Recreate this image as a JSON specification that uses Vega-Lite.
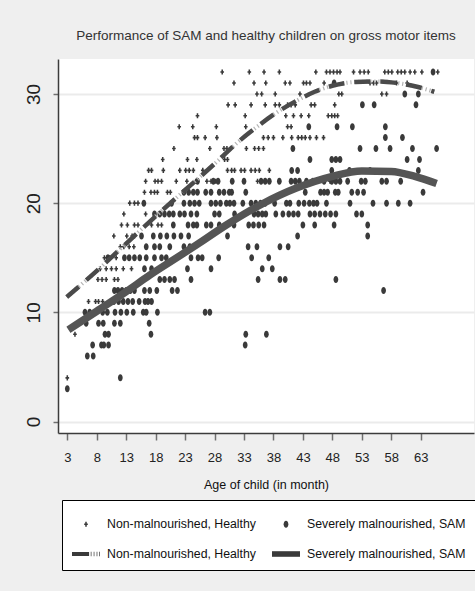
{
"$schema": "https://vega.github.io/schema/vega-lite/v6.json",
"width": 416, "height": 374,
"autosize": {"type": "none"},
"padding": {"left": 58, "top": 59, "right": 1, "bottom": 158},
"background": "#efefef",
"config": {"view": {"fill": "white", "stroke": null}},
"title": {"text": "Performance of SAM and healthy children on gross motor items", "font": "Liberation Sans, Arial, sans-serif", "fontSize": 13.5, "fontWeight": "normal", "color": "#333333", "anchor": "middle", "frame": "group", "baseline": "bottom", "offset": 3},
"datasets": {
"points": [
{"age":29.3,"score":32,"group":"H"},{"age":33.9,"score":32,"group":"H"},{"age":36.4,"score":32,"group":"H"},{"age":39.0,"score":32,"group":"H"},{"age":45.2,"score":32,"group":"H"},{"age":47.0,"score":32,"group":"H"},{"age":47.6,"score":32,"group":"H"},{"age":48.2,"score":32,"group":"H"},{"age":48.8,"score":32,"group":"H"},{"age":49.3,"score":32,"group":"H"},{"age":51.6,"score":32,"group":"H"},{"age":52.7,"score":32,"group":"H"},{"age":53.4,"score":32,"group":"H"},{"age":54.1,"score":32,"group":"H"},{"age":56.9,"score":32,"group":"H"},{"age":57.5,"score":32,"group":"H"},{"age":58.1,"score":32,"group":"H"},{"age":59.1,"score":32,"group":"H"},{"age":59.7,"score":32,"group":"H"},{"age":60.3,"score":32,"group":"H"},{"age":61.2,"score":32,"group":"H"},{"age":62.0,"score":32,"group":"H"},{"age":63.2,"score":32,"group":"H"},{"age":65.9,"score":32,"group":"H"},
{"age":31.3,"score":31,"group":"H"},{"age":34.7,"score":31,"group":"H"},{"age":36.7,"score":31,"group":"H"},{"age":40.0,"score":31,"group":"H"},{"age":40.8,"score":31,"group":"H"},{"age":43.1,"score":31,"group":"H"},{"age":43.6,"score":31,"group":"H"},{"age":44.2,"score":31,"group":"H"},{"age":46.6,"score":31,"group":"H"},{"age":54.4,"score":31,"group":"H"},{"age":55.0,"score":31,"group":"H"},{"age":55.5,"score":31,"group":"H"},{"age":58.9,"score":31,"group":"H"},{"age":60.7,"score":31,"group":"H"},
{"age":35.2,"score":30,"group":"H"},{"age":36.0,"score":30,"group":"H"},{"age":38.3,"score":30,"group":"H"},{"age":42.5,"score":30,"group":"H"},{"age":49.1,"score":30,"group":"H"},{"age":49.6,"score":30,"group":"H"},{"age":56.4,"score":30,"group":"H"},{"age":57.2,"score":30,"group":"H"},
{"age":30.3,"score":29,"group":"H"},{"age":31.5,"score":29,"group":"H"},{"age":34.2,"score":29,"group":"H"},{"age":36.6,"score":29,"group":"H"},{"age":38.3,"score":29,"group":"H"},{"age":39.0,"score":29,"group":"H"},{"age":40.4,"score":29,"group":"H"},{"age":41.0,"score":29,"group":"H"},{"age":41.7,"score":29,"group":"H"},{"age":44.4,"score":29,"group":"H"},{"age":45.0,"score":29,"group":"H"},{"age":48.4,"score":29,"group":"H"},
{"age":25.1,"score":28,"group":"H"},{"age":33.2,"score":28,"group":"H"},{"age":40.1,"score":28,"group":"H"},{"age":41.4,"score":28,"group":"H"},{"age":42.7,"score":28,"group":"H"},{"age":44.0,"score":28,"group":"H"},{"age":47.3,"score":28,"group":"H"},{"age":47.9,"score":28,"group":"H"},{"age":48.4,"score":28,"group":"H"},{"age":48.9,"score":28,"group":"H"},
{"age":22.0,"score":27,"group":"H"},{"age":24.3,"score":27,"group":"H"},{"age":28.3,"score":27,"group":"H"},{"age":33.3,"score":27,"group":"H"},{"age":40.4,"score":27,"group":"H"},{"age":41.0,"score":27,"group":"H"},
{"age":24.6,"score":26,"group":"H"},{"age":25.1,"score":26,"group":"H"},{"age":26.4,"score":26,"group":"H"},{"age":28.4,"score":26,"group":"H"},{"age":36.3,"score":26,"group":"H"},{"age":37.1,"score":26,"group":"H"},{"age":38.0,"score":26,"group":"H"},{"age":39.6,"score":26,"group":"H"},{"age":41.1,"score":26,"group":"H"},{"age":42.2,"score":26,"group":"H"},{"age":42.8,"score":26,"group":"H"},{"age":43.4,"score":26,"group":"H"},{"age":44.2,"score":26,"group":"H"},{"age":45.3,"score":26,"group":"H"},{"age":46.5,"score":26,"group":"H"},
{"age":21.1,"score":25,"group":"H"},{"age":27.2,"score":25,"group":"H"},{"age":29.6,"score":25,"group":"H"},{"age":30.1,"score":25,"group":"H"},{"age":33.4,"score":25,"group":"H"},{"age":34.8,"score":25,"group":"H"},{"age":35.5,"score":25,"group":"H"},{"age":36.3,"score":25,"group":"H"},
{"age":19.2,"score":24,"group":"H"},{"age":23.4,"score":24,"group":"H"},{"age":25.0,"score":24,"group":"H"},{"age":29.7,"score":24,"group":"H"},{"age":30.2,"score":24,"group":"H"},
{"age":16.8,"score":23,"group":"H"},{"age":17.3,"score":23,"group":"H"},{"age":19.3,"score":23,"group":"H"},{"age":22.1,"score":23,"group":"H"},{"age":23.1,"score":23,"group":"H"},{"age":23.7,"score":23,"group":"H"},{"age":24.4,"score":23,"group":"H"},{"age":26.0,"score":23,"group":"H"},{"age":30.2,"score":23,"group":"H"},{"age":30.9,"score":23,"group":"H"},{"age":31.4,"score":23,"group":"H"},{"age":32.5,"score":23,"group":"H"},{"age":33.1,"score":23,"group":"H"},{"age":34.2,"score":23,"group":"H"},{"age":34.9,"score":23,"group":"H"},{"age":35.6,"score":23,"group":"H"},{"age":37.3,"score":23,"group":"H"},
{"age":16.3,"score":22,"group":"H"},{"age":17.9,"score":22,"group":"H"},{"age":18.4,"score":22,"group":"H"},{"age":19.0,"score":22,"group":"H"},{"age":21.5,"score":22,"group":"H"},{"age":23.3,"score":22,"group":"H"},{"age":24.8,"score":22,"group":"H"},{"age":26.7,"score":22,"group":"H"},{"age":27.4,"score":22,"group":"H"},{"age":28.2,"score":22,"group":"H"},{"age":35.3,"score":22,"group":"H"},{"age":47.6,"score":22,"group":"H"},
{"age":16.1,"score":21,"group":"H"},{"age":17.2,"score":21,"group":"H"},{"age":17.8,"score":21,"group":"H"},{"age":18.3,"score":21,"group":"H"},{"age":20.0,"score":21,"group":"H"},{"age":20.5,"score":21,"group":"H"},
{"age":13.6,"score":20,"group":"H"},{"age":14.4,"score":20,"group":"H"},{"age":15.0,"score":20,"group":"H"},
{"age":12.6,"score":19,"group":"H"},{"age":16.3,"score":19,"group":"H"},
{"age":12.2,"score":18,"group":"H"},{"age":13.2,"score":18,"group":"H"},{"age":14.4,"score":18,"group":"H"},{"age":15.0,"score":18,"group":"H"},{"age":17.3,"score":18,"group":"H"},{"age":18.4,"score":18,"group":"H"},{"age":19.0,"score":18,"group":"H"},
{"age":10.9,"score":17,"group":"H"},{"age":13.1,"score":17,"group":"H"},{"age":14.0,"score":17,"group":"H"},{"age":14.4,"score":17,"group":"H"},
{"age":12.0,"score":16,"group":"H"},{"age":12.6,"score":16,"group":"H"},{"age":13.5,"score":16,"group":"H"},{"age":14.3,"score":16,"group":"H"},
{"age":9.3,"score":15,"group":"H"},{"age":9.8,"score":15,"group":"H"},{"age":10.2,"score":15,"group":"H"},{"age":11.3,"score":15,"group":"H"},
{"age":8.6,"score":14,"group":"H"},{"age":9.6,"score":14,"group":"H"},{"age":10.5,"score":14,"group":"H"},{"age":11.3,"score":14,"group":"H"},{"age":12.5,"score":14,"group":"H"},{"age":13.9,"score":14,"group":"H"},
{"age":8.2,"score":13,"group":"H"},{"age":8.9,"score":13,"group":"H"},{"age":9.6,"score":13,"group":"H"},{"age":11.0,"score":13,"group":"H"},{"age":11.6,"score":13,"group":"H"},
{"age":6.6,"score":11,"group":"H"},{"age":7.8,"score":11,"group":"H"},{"age":8.3,"score":11,"group":"H"},{"age":9.0,"score":11,"group":"H"},
{"age":4.3,"score":8,"group":"H"},{"age":3.0,"score":4,"group":"H"},
{"age":65.1,"score":32,"group":"S"},{"age":48.3,"score":31,"group":"S"},{"age":60.3,"score":30,"group":"S"},{"age":62.6,"score":30,"group":"S"},
{"age":53.1,"score":29,"group":"S"},{"age":55.1,"score":29,"group":"S"},{"age":62.2,"score":29,"group":"S"},
{"age":44.0,"score":27,"group":"S"},{"age":48.8,"score":27,"group":"S"},{"age":51.4,"score":27,"group":"S"},{"age":57.0,"score":27,"group":"S"},
{"age":57.0,"score":26,"group":"S"},{"age":59.9,"score":26,"group":"S"},
{"age":41.3,"score":25,"group":"S"},{"age":52.7,"score":25,"group":"S"},{"age":55.4,"score":25,"group":"S"},{"age":57.8,"score":25,"group":"S"},{"age":61.6,"score":25,"group":"S"},{"age":65.7,"score":25,"group":"S"},
{"age":44.2,"score":24,"group":"S"},{"age":47.9,"score":24,"group":"S"},{"age":48.6,"score":24,"group":"S"},{"age":49.3,"score":24,"group":"S"},{"age":60.7,"score":24,"group":"S"},{"age":62.8,"score":24,"group":"S"},
{"age":41.1,"score":23,"group":"S"},{"age":42.1,"score":23,"group":"S"},{"age":47.9,"score":23,"group":"S"},{"age":50.9,"score":23,"group":"S"},{"age":54.4,"score":23,"group":"S"},{"age":62.6,"score":23,"group":"S"},
{"age":25.1,"score":22,"group":"S"},{"age":27.8,"score":22,"group":"S"},{"age":28.6,"score":22,"group":"S"},{"age":31.0,"score":22,"group":"S"},{"age":33.0,"score":22,"group":"S"},{"age":35.9,"score":22,"group":"S"},{"age":36.6,"score":22,"group":"S"},{"age":37.3,"score":22,"group":"S"},{"age":39.0,"score":22,"group":"S"},{"age":41.0,"score":22,"group":"S"},{"age":41.7,"score":22,"group":"S"},{"age":42.4,"score":22,"group":"S"},{"age":43.6,"score":22,"group":"S"},{"age":44.7,"score":22,"group":"S"},{"age":46.6,"score":22,"group":"S"},{"age":47.9,"score":22,"group":"S"},{"age":48.6,"score":22,"group":"S"},{"age":49.3,"score":22,"group":"S"},{"age":50.6,"score":22,"group":"S"},{"age":52.9,"score":22,"group":"S"},{"age":53.6,"score":22,"group":"S"},{"age":56.4,"score":22,"group":"S"},{"age":57.2,"score":22,"group":"S"},{"age":59.6,"score":22,"group":"S"},
{"age":22.8,"score":21,"group":"S"},{"age":23.6,"score":21,"group":"S"},{"age":24.4,"score":21,"group":"S"},{"age":25.1,"score":21,"group":"S"},{"age":26.5,"score":21,"group":"S"},{"age":27.4,"score":21,"group":"S"},{"age":28.8,"score":21,"group":"S"},{"age":29.6,"score":21,"group":"S"},{"age":30.5,"score":21,"group":"S"},{"age":30.9,"score":21,"group":"S"},{"age":33.3,"score":21,"group":"S"},{"age":43.4,"score":21,"group":"S"},{"age":46.0,"score":21,"group":"S"},{"age":46.6,"score":21,"group":"S"},{"age":47.2,"score":21,"group":"S"},{"age":48.5,"score":21,"group":"S"},{"age":49.0,"score":21,"group":"S"},{"age":51.3,"score":21,"group":"S"},{"age":52.3,"score":21,"group":"S"},{"age":53.3,"score":21,"group":"S"},{"age":63.4,"score":21,"group":"S"},
{"age":16.0,"score":20,"group":"S"},{"age":20.7,"score":20,"group":"S"},{"age":22.8,"score":20,"group":"S"},{"age":23.8,"score":20,"group":"S"},{"age":24.6,"score":20,"group":"S"},{"age":25.4,"score":20,"group":"S"},{"age":27.4,"score":20,"group":"S"},{"age":28.2,"score":20,"group":"S"},{"age":29.0,"score":20,"group":"S"},{"age":30.0,"score":20,"group":"S"},{"age":30.6,"score":20,"group":"S"},{"age":31.3,"score":20,"group":"S"},{"age":32.8,"score":20,"group":"S"},{"age":34.2,"score":20,"group":"S"},{"age":35.0,"score":20,"group":"S"},{"age":35.8,"score":20,"group":"S"},{"age":36.6,"score":20,"group":"S"},{"age":38.2,"score":20,"group":"S"},{"age":40.2,"score":20,"group":"S"},{"age":40.8,"score":20,"group":"S"},{"age":42.3,"score":20,"group":"S"},{"age":43.2,"score":20,"group":"S"},{"age":44.1,"score":20,"group":"S"},{"age":44.8,"score":20,"group":"S"},{"age":45.4,"score":20,"group":"S"},{"age":47.0,"score":20,"group":"S"},{"age":51.0,"score":20,"group":"S"},{"age":54.9,"score":20,"group":"S"},{"age":57.2,"score":20,"group":"S"},{"age":59.2,"score":20,"group":"S"},{"age":61.2,"score":20,"group":"S"},
{"age":17.8,"score":19,"group":"S"},{"age":18.7,"score":19,"group":"S"},{"age":19.5,"score":19,"group":"S"},{"age":20.3,"score":19,"group":"S"},{"age":21.0,"score":19,"group":"S"},{"age":22.1,"score":19,"group":"S"},{"age":22.9,"score":19,"group":"S"},{"age":24.0,"score":19,"group":"S"},{"age":25.0,"score":19,"group":"S"},{"age":28.0,"score":19,"group":"S"},{"age":28.8,"score":19,"group":"S"},{"age":31.4,"score":19,"group":"S"},{"age":34.7,"score":19,"group":"S"},{"age":35.4,"score":19,"group":"S"},{"age":36.1,"score":19,"group":"S"},{"age":36.7,"score":19,"group":"S"},{"age":38.4,"score":19,"group":"S"},{"age":39.6,"score":19,"group":"S"},{"age":40.6,"score":19,"group":"S"},{"age":41.4,"score":19,"group":"S"},{"age":42.2,"score":19,"group":"S"},{"age":44.2,"score":19,"group":"S"},{"age":45.0,"score":19,"group":"S"},{"age":45.9,"score":19,"group":"S"},{"age":46.8,"score":19,"group":"S"},{"age":47.7,"score":19,"group":"S"},{"age":48.6,"score":19,"group":"S"},{"age":52.1,"score":19,"group":"S"},{"age":53.0,"score":19,"group":"S"},
{"age":21.0,"score":18,"group":"S"},{"age":23.5,"score":18,"group":"S"},{"age":24.4,"score":18,"group":"S"},{"age":25.0,"score":18,"group":"S"},{"age":26.6,"score":18,"group":"S"},{"age":27.4,"score":18,"group":"S"},{"age":28.8,"score":18,"group":"S"},{"age":31.3,"score":18,"group":"S"},{"age":33.8,"score":18,"group":"S"},{"age":34.6,"score":18,"group":"S"},{"age":35.5,"score":18,"group":"S"},{"age":36.4,"score":18,"group":"S"},{"age":43.0,"score":18,"group":"S"},{"age":45.0,"score":18,"group":"S"},{"age":48.3,"score":18,"group":"S"},{"age":54.0,"score":18,"group":"S"},
{"age":15.6,"score":17,"group":"S"},{"age":17.6,"score":17,"group":"S"},{"age":18.8,"score":17,"group":"S"},{"age":19.9,"score":17,"group":"S"},{"age":21.1,"score":17,"group":"S"},{"age":22.3,"score":17,"group":"S"},{"age":23.6,"score":17,"group":"S"},{"age":30.2,"score":17,"group":"S"},{"age":42.1,"score":17,"group":"S"},{"age":54.0,"score":17,"group":"S"},
{"age":16.4,"score":16,"group":"S"},{"age":17.8,"score":16,"group":"S"},{"age":18.7,"score":16,"group":"S"},{"age":20.4,"score":16,"group":"S"},{"age":22.8,"score":16,"group":"S"},{"age":23.8,"score":16,"group":"S"},{"age":33.7,"score":16,"group":"S"},{"age":35.2,"score":16,"group":"S"},{"age":39.1,"score":16,"group":"S"},{"age":40.5,"score":16,"group":"S"},
{"age":9.9,"score":15,"group":"S"},{"age":12.7,"score":15,"group":"S"},{"age":13.5,"score":15,"group":"S"},{"age":14.4,"score":15,"group":"S"},{"age":15.3,"score":15,"group":"S"},{"age":16.4,"score":15,"group":"S"},{"age":17.8,"score":15,"group":"S"},{"age":19.0,"score":15,"group":"S"},{"age":19.8,"score":15,"group":"S"},{"age":24.0,"score":15,"group":"S"},{"age":25.2,"score":15,"group":"S"},{"age":25.9,"score":15,"group":"S"},{"age":28.7,"score":15,"group":"S"},{"age":34.3,"score":15,"group":"S"},{"age":37.2,"score":15,"group":"S"},
{"age":16.1,"score":14,"group":"S"},{"age":17.3,"score":14,"group":"S"},{"age":23.4,"score":14,"group":"S"},{"age":27.4,"score":14,"group":"S"},{"age":36.1,"score":14,"group":"S"},{"age":37.8,"score":14,"group":"S"},
{"age":18.7,"score":13,"group":"S"},{"age":19.5,"score":13,"group":"S"},{"age":20.4,"score":13,"group":"S"},{"age":21.2,"score":13,"group":"S"},{"age":24.0,"score":13,"group":"S"},{"age":35.4,"score":13,"group":"S"},{"age":39.1,"score":13,"group":"S"},{"age":40.0,"score":13,"group":"S"},{"age":48.6,"score":13,"group":"S"},
{"age":11.0,"score":12,"group":"S"},{"age":11.6,"score":12,"group":"S"},{"age":12.3,"score":12,"group":"S"},{"age":13.0,"score":12,"group":"S"},{"age":13.7,"score":12,"group":"S"},{"age":14.4,"score":12,"group":"S"},{"age":16.1,"score":12,"group":"S"},{"age":17.0,"score":12,"group":"S"},{"age":18.2,"score":12,"group":"S"},{"age":20.8,"score":12,"group":"S"},{"age":21.7,"score":12,"group":"S"},{"age":56.7,"score":12,"group":"S"},
{"age":10.9,"score":11,"group":"S"},{"age":11.7,"score":11,"group":"S"},{"age":12.5,"score":11,"group":"S"},{"age":13.3,"score":11,"group":"S"},{"age":14.1,"score":11,"group":"S"},{"age":15.2,"score":11,"group":"S"},{"age":16.2,"score":11,"group":"S"},{"age":16.7,"score":11,"group":"S"},{"age":17.3,"score":11,"group":"S"},
{"age":6.0,"score":10,"group":"S"},{"age":6.8,"score":10,"group":"S"},{"age":9.0,"score":10,"group":"S"},{"age":9.8,"score":10,"group":"S"},{"age":11.1,"score":10,"group":"S"},{"age":12.1,"score":10,"group":"S"},{"age":13.1,"score":10,"group":"S"},{"age":14.2,"score":10,"group":"S"},{"age":15.9,"score":10,"group":"S"},{"age":16.4,"score":10,"group":"S"},{"age":18.3,"score":10,"group":"S"},{"age":26.4,"score":10,"group":"S"},{"age":27.2,"score":10,"group":"S"},
{"age":6.2,"score":9,"group":"S"},{"age":8.3,"score":9,"group":"S"},{"age":9.1,"score":9,"group":"S"},{"age":11.0,"score":9,"group":"S"},{"age":12.0,"score":9,"group":"S"},{"age":16.9,"score":9,"group":"S"},
{"age":9.4,"score":8,"group":"S"},{"age":10.0,"score":8,"group":"S"},{"age":17.2,"score":8,"group":"S"},{"age":33.3,"score":8,"group":"S"},{"age":36.8,"score":8,"group":"S"},
{"age":7.3,"score":7,"group":"S"},{"age":8.8,"score":7,"group":"S"},{"age":9.2,"score":7,"group":"S"},{"age":10.0,"score":7,"group":"S"},{"age":33.2,"score":7,"group":"S"},
{"age":6.4,"score":6,"group":"S"},{"age":7.4,"score":6,"group":"S"},
{"age":12.0,"score":4,"group":"S"},{"age":3.0,"score":3,"group":"S"}
],
"fits": [
{"age":2.9,"score":11.4,"fit":"H"},{"age":8,"score":13.8,"fit":"H"},{"age":13,"score":16.3,"fit":"H"},{"age":18,"score":18.8,"fit":"H"},{"age":23,"score":21.2,"fit":"H"},{"age":28,"score":23.6,"fit":"H"},{"age":32,"score":25.6,"fit":"H"},{"age":35,"score":26.9,"fit":"H"},{"age":38,"score":28.1,"fit":"H"},{"age":42,"score":29.4,"fit":"H"},{"age":45,"score":30.2,"fit":"H"},{"age":48,"score":30.75,"fit":"H"},{"age":52,"score":31.1,"fit":"H"},{"age":56,"score":31.15,"fit":"H"},{"age":59,"score":31.0,"fit":"H"},{"age":62,"score":30.7,"fit":"H"},{"age":65.3,"score":30.2,"fit":"H"},
{"age":3.2,"score":8.4,"fit":"S"},{"age":8,"score":10.1,"fit":"S"},{"age":13,"score":11.9,"fit":"S"},{"age":17,"score":13.4,"fit":"S"},{"age":21,"score":14.8,"fit":"S"},{"age":25,"score":16.2,"fit":"S"},{"age":30,"score":18.0,"fit":"S"},{"age":36,"score":19.9,"fit":"S"},{"age":42,"score":21.4,"fit":"S"},{"age":48,"score":22.45,"fit":"S"},{"age":53,"score":22.95,"fit":"S"},{"age":58,"score":22.9,"fit":"S"},{"age":62,"score":22.45,"fit":"S"},{"age":65.7,"score":21.8,"fit":"S"}
]
},
"encoding": {
"x": {"field": "age", "type": "quantitative", "scale": {"domain": [1.42, 72.05], "nice": false, "zero": false},
 "axis": {"values": [3,8,13,18,23,28,33,38,43,48,53,58,63], "grid": false, "domainColor": "#3c3c3c", "domainWidth": 1.5, "tickColor": "#707070", "tickSize": 7, "tickWidth": 1.5, "labelFont": "Liberation Sans, Arial, sans-serif", "labelFontSize": 13, "labelColor": "#222222", "labelPadding": 11, "labelFlush": false, "title": "Age of child (in month)", "titleFont": "Liberation Sans, Arial, sans-serif", "titleFontSize": 12.5, "titleFontWeight": "normal", "titleColor": "#111111", "titlePadding": 14}},
"y": {"field": "score", "type": "quantitative", "scale": {"domain": [-1.05, 33.2], "nice": false, "zero": false},
 "axis": {"values": [0,10,20,30], "grid": true, "gridColor": "#ebebeb", "gridWidth": 2, "domainColor": "#3c3c3c", "domainWidth": 1.5, "tickColor": "#707070", "tickSize": 5, "tickWidth": 1.5, "labelAngle": 270, "labelAlign": "center", "labelBaseline": "bottom", "labelFont": "Liberation Sans, Arial, sans-serif", "labelFontSize": 19, "labelPadding": 10, "labelColor": "#222222", "title": null}}
},
"layer": [
{"data": {"name": "points"},
 "mark": {"type": "point", "filled": true, "size": 784, "opacity": 1, "color": "#3a3a3a"},
 "encoding": {"shape": {"field": "group", "type": "nominal",
   "scale": {"domain": ["H", "S", "HF", "SF"], "range": [
     "M-0.055,-0.18H0.055V-0.055H0.13V0.055H0.055V0.18H-0.055V0.055H-0.13V-0.055H-0.055Z",
     "M0,-0.25A0.17,0.25 0 1,1 0,0.25A0.17,0.25 0 1,1 0,-0.25Z",
     "M-1,-0.14H0.22V0.14H-1Z M0.34,-0.16H0.39V0.16H0.34Z M0.55,-0.16H0.6V0.16H0.55Z M0.76,-0.16H0.81V0.16H0.76Z M0.95,-0.16H1V0.16H0.95Z",
     "M-1,-0.2H1V0.2H-1Z"]},
   "legend": {"title": null, "orient": "none", "legendX": 4, "legendY": 441, "direction": "horizontal", "columns": 2, "symbolSize": 784, "symbolFillColor": "#3a3a3a", "strokeColor": "#000000", "fillColor": "#ffffff", "padding": 9, "labelOffset": 6, "columnPadding": 12, "rowPadding": 8, "labelFont": "Liberation Sans, Arial, sans-serif", "labelFontSize": 12.3, "labelColor": "#111111", "labelLimit": 300,
     "labelExpr": "(datum.label == 'H' || datum.label == 'HF') ? 'Non-malnourished, Healthy' : 'Severely malnourished, SAM'"}}}},
{"data": {"name": "fits"}, "transform": [{"filter": "datum.fit == 'H'"}],
 "mark": {"type": "line", "color": "#b5b5b5", "strokeWidth": 4, "strokeDash": [1.2, 2.8], "interpolate": "monotone"}, "encoding": {}},
{"data": {"name": "fits"}, "transform": [{"filter": "datum.fit == 'H'"}],
 "mark": {"type": "line", "color": "#4a4a4a", "strokeWidth": 4.5, "strokeDash": [16, 10], "interpolate": "monotone"}, "encoding": {}},
{"data": {"name": "fits"}, "transform": [{"filter": "datum.fit == 'S'"}],
 "mark": {"type": "line", "color": "#555555", "strokeWidth": 7.5, "interpolate": "monotone"}, "encoding": {}}
]
}
